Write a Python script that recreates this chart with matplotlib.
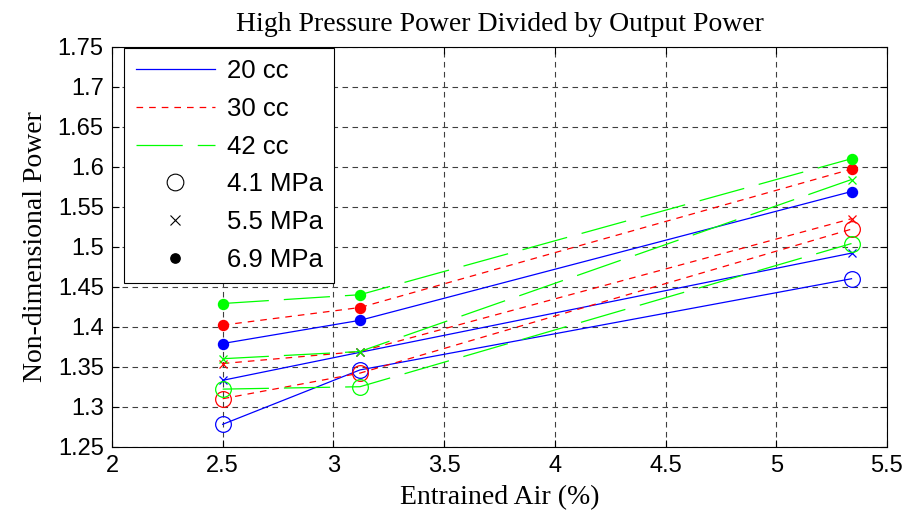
import numpy as np
import matplotlib
matplotlib.use("Agg")
import matplotlib.pyplot as plt
from matplotlib.lines import Line2D

# entrained air levels (%)
air = [2.5, 3.12, 5.34]

# non-dimensional power, per displacement (cc) and pressure (MPa)
p20_41 = [1.278, 1.346, 1.460]
p20_55 = [1.333, 1.368, 1.492]
p20_69 = [1.379, 1.408, 1.569]

p30_41 = [1.310, 1.342, 1.522]
p30_55 = [1.354, 1.369, 1.535]
p30_69 = [1.402, 1.424, 1.597]

p42_41 = [1.322, 1.325, 1.504]
p42_55 = [1.360, 1.369, 1.584]
p42_69 = [1.429, 1.440, 1.610]

sizes = ["20 cc", "30 cc", "42 cc"]
pressures = ["4.1 MPa", "5.5 MPa", "6.9 MPa"]
xticks = [2, 2.5, 3, 3.5, 4, 4.5, 5, 5.5]
yticks = [1.25, 1.3, 1.35, 1.4, 1.45, 1.5, 1.55, 1.6, 1.65, 1.7, 1.75]

series = {
    "20 cc": [p20_41, p20_55, p20_69],
    "30 cc": [p30_41, p30_55, p30_69],
    "42 cc": [p42_41, p42_55, p42_69],
}
colors = {"20 cc": "#0000ff", "30 cc": "#ff0000", "42 cc": "#00ff00"}
lstyles = {"20 cc": "-", "30 cc": (0, (5.3, 4.8)), "42 cc": (0, (37, 12))}

SANS = "Liberation Sans"
SERIF = "Liberation Serif"

fig = plt.figure(figsize=(9.11, 5.25), dpi=100)
ax = fig.add_axes([0.1229, 0.1491, 0.8507, 0.7619])

for name in sizes:
    for i, vals in enumerate(series[name]):
        ax.plot(air, vals, color=colors[name], linestyle=lstyles[name], lw=0.9)
        if i == 0:
            ax.plot(air, vals, linestyle="none", marker="o", ms=11.3,
                    mfc="none", mec=colors[name], mew=0.9)
        elif i == 1:
            ax.plot(air, vals, linestyle="none", marker="x", ms=6,
                    mec=colors[name], mew=0.9)
        else:
            ax.plot(air, vals, linestyle="none", marker="o", ms=7.2,
                    mfc=colors[name], mec=colors[name])

ax.set_xlim(2, 5.5)
ax.set_ylim(1.25, 1.75)
ax.set_xticks(xticks)
ax.set_yticks(yticks)
ax.set_xticklabels([f"{v:g}" for v in xticks], fontname=SANS, fontsize=17)
ax.set_yticklabels([f"{v:g}" for v in yticks], fontname=SANS, fontsize=17)
ax.tick_params(direction="in", length=5, width=0.8, top=True, right=True, pad=6)
ax.grid(True, color="#404040", linestyle=(0, (5, 4)), lw=0.8)
for sp in ax.spines.values():
    sp.set_linewidth(0.8)

ax.set_title("High Pressure Power Divided by Output Power",
             fontname=SERIF, fontsize=20, pad=11)
ax.set_xlabel("Entrained Air (%)", fontname=SERIF, fontsize=20, labelpad=6)
ax.set_ylabel("Non-dimensional Power", fontname=SERIF, fontsize=20, labelpad=7)

handles = [Line2D([], [], color=colors[n], linestyle=lstyles[n], lw=0.9) for n in sizes]
handles += [
    Line2D([], [], linestyle="none", marker="o", ms=12, mfc="none", mec="k", mew=0.8),
    Line2D([], [], linestyle="none", marker="x", ms=6.5, mec="k", mew=0.8),
    Line2D([], [], linestyle="none", marker="o", ms=6.7, mfc="k", mec="k"),
]
leg = ax.legend(handles, sizes + pressures, loc="upper left",
                bbox_to_anchor=(0.0155, 0.997), prop={"family": SANS, "size": 18.5},
                frameon=True, fancybox=False, framealpha=1, edgecolor="k",
                handlelength=3.1, labelspacing=0.53, borderpad=0.45,
                handletextpad=0.45, borderaxespad=0)
leg.get_frame().set_linewidth(0.8)

fig.savefig("out.png", dpi=100)
